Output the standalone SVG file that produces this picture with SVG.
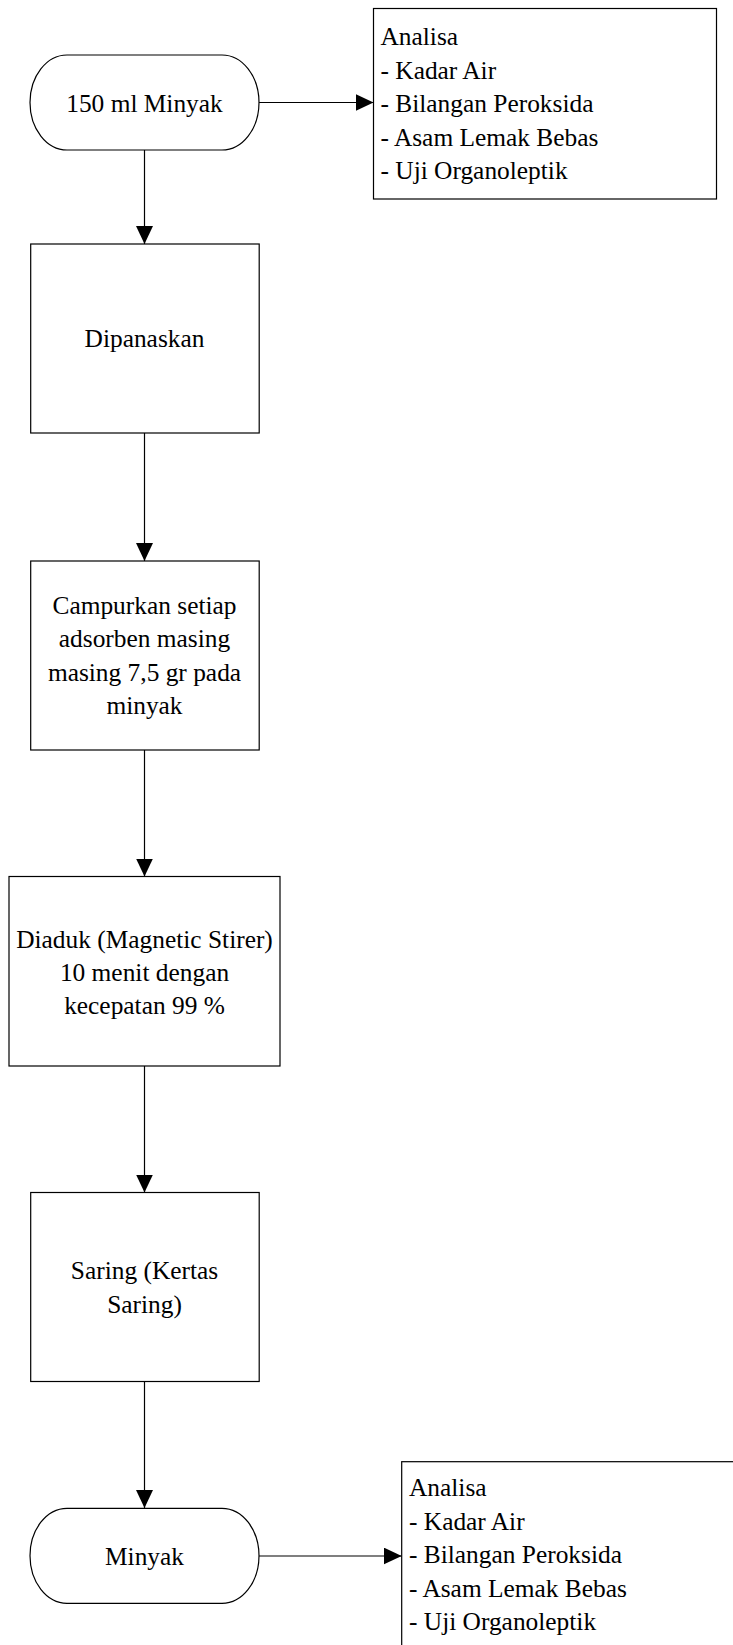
<svg xmlns="http://www.w3.org/2000/svg" width="733" height="1645" viewBox="0 0 733 1645">
<style>
.shape{fill:#fff;stroke:#000;stroke-width:1.2}
.conn{fill:none;stroke:#000;stroke-width:1.2}
text{font-family:'Liberation Serif','Times New Roman',serif;font-size:25.4px;fill:#000}
.c{text-anchor:middle}
</style>
<defs>
<marker id="arr" markerUnits="userSpaceOnUse" markerWidth="18" markerHeight="18" refX="18" refY="8.5" orient="auto">
<path d="M0,0 L18,8.5 L0,17 Z" fill="#000"/>
</marker>
</defs>
<rect width="733" height="1645" fill="#fff"/>
<g id="connectors">
<line class="conn" x1="144.5" y1="150" x2="144.5" y2="244" marker-end="url(#arr)"/>
<line class="conn" x1="144.5" y1="433" x2="144.5" y2="561" marker-end="url(#arr)"/>
<line class="conn" x1="144.5" y1="750" x2="144.5" y2="876.5" marker-end="url(#arr)"/>
<line class="conn" x1="144.5" y1="1066" x2="144.5" y2="1192.5" marker-end="url(#arr)"/>
<line class="conn" x1="144.5" y1="1381.5" x2="144.5" y2="1508" marker-end="url(#arr)"/>
<line class="conn" x1="259" y1="102.5" x2="373.5" y2="102.5" marker-end="url(#arr)"/>
<line class="conn" x1="259" y1="1556" x2="401.7" y2="1556" marker-end="url(#arr)"/>
</g>
<g id="start">
<rect class="shape" x="30" y="55" width="229" height="95" rx="37" ry="47.5"/>
<text class="c" x="144.5" y="111.5">150 ml Minyak</text>
</g>
<g id="analisa1">
<rect class="shape" x="373.5" y="8.5" width="343" height="190.5"/>
<text x="380.5" y="44.8">Analisa</text>
<text x="380.5" y="78.5">- Kadar Air</text>
<text x="380.5" y="112.2">- Bilangan Peroksida</text>
<text x="380.5" y="145.6">- Asam Lemak Bebas</text>
<text x="380.5" y="179">- Uji Organoleptik</text>
</g>
<g id="dipanaskan">
<rect class="shape" x="30.7" y="244" width="228.5" height="189"/>
<text class="c" x="144.5" y="347">Dipanaskan</text>
</g>
<g id="campurkan">
<rect class="shape" x="30.7" y="561" width="228.5" height="189"/>
<text class="c" x="144.5" y="613.5">Campurkan setiap</text>
<text class="c" x="144.5" y="647">adsorben masing</text>
<text class="c" x="144.5" y="680.5">masing 7,5 gr pada</text>
<text class="c" x="144.5" y="714">minyak</text>
</g>
<g id="diaduk">
<rect class="shape" x="9" y="876.5" width="271" height="189.5"/>
<text class="c" x="144.5" y="947.5">Diaduk (Magnetic Stirer)</text>
<text class="c" x="144.5" y="980.5">10 menit dengan</text>
<text class="c" x="144.5" y="1013.5">kecepatan 99 %</text>
</g>
<g id="saring">
<rect class="shape" x="30.7" y="1192.5" width="228.5" height="189"/>
<text class="c" x="144.5" y="1279">Saring (Kertas</text>
<text class="c" x="144.5" y="1312.5">Saring)</text>
</g>
<g id="end">
<rect class="shape" x="30" y="1508.3" width="229" height="95" rx="37" ry="47.5"/>
<text class="c" x="144.5" y="1565">Minyak</text>
</g>
<g id="analisa2">
<rect class="shape" x="401.7" y="1461.7" width="360" height="220"/>
<text x="409" y="1496">Analisa</text>
<text x="409" y="1529.5">- Kadar Air</text>
<text x="409" y="1563">- Bilangan Peroksida</text>
<text x="409" y="1596.5">- Asam Lemak Bebas</text>
<text x="409" y="1630">- Uji Organoleptik</text>
</g>
</svg>
